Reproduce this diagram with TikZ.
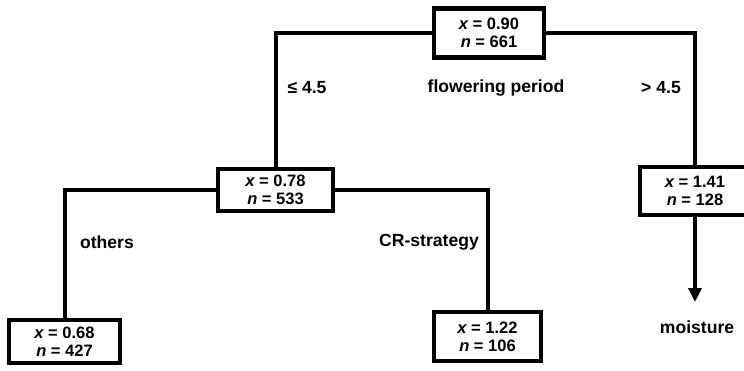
\documentclass[tikz,border=0pt]{standalone}
\usepackage{fontspec}
\setmainfont{Liberation Sans}
\usetikzlibrary{arrows.meta}

\begin{document}
\begin{tikzpicture}[x=0.02cm,y=-0.02cm,
  split/.style={draw,line width=0.085cm,fill=white,inner sep=0pt,align=center,
    font=\fontsize{9.4}{10.4}\selectfont\bfseries},
  lab/.style={font=\fontsize{10}{12}\selectfont\bfseries,inner sep=0pt},
  link/.style={line width=0.08cm}]
\useasboundingbox (0,0) rectangle (744,371);

\node[split,minimum width=2.2cm,minimum height=0.98cm] (root) at (489,33) {{\itshape x} = 0.90\\{\itshape n} = 661};
\node[split,minimum width=2.3cm,minimum height=0.84cm] (mid) at (275.5,190) {{\itshape x} = 0.78\\{\itshape n} = 533};
\node[split,minimum width=2.2cm,minimum height=0.96cm] (wet) at (695,191) {{\itshape x} = 1.41\\{\itshape n} = 128};
\node[split,minimum width=2.22cm,minimum height=0.86cm] (oth) at (64.5,341.5) {{\itshape x} = 0.68\\{\itshape n} = 427};
\node[split,minimum width=2.14cm,minimum height=0.98cm] (crs) at (487.5,336.5) {{\itshape x} = 1.22\\{\itshape n} = 106};

\node[lab] (le) at (307,88) {≤ 4.5};
\node[lab] (flow) at (496,88) {flowering period};
\node[lab] (gt) at (661,88) {> 4.5};
\node[lab] (others) at (107,242) {others};
\node[lab] (cr) at (429,242) {CR-strategy};
\node[lab] (moist) at (697,327) {moisture};
\coordinate (tip) at (695,302);

\draw[link] (root.west) -| (mid.north);
\draw[link] (root.east) -| (wet.north);
\draw[link] (mid.west) -| (oth.north);
\draw[link] (mid.east) -| (crs.north);
\draw[link,-{Triangle[width=0.26cm,length=0.28cm]}] (wet.south) -- (tip);
\end{tikzpicture}
\end{document}
